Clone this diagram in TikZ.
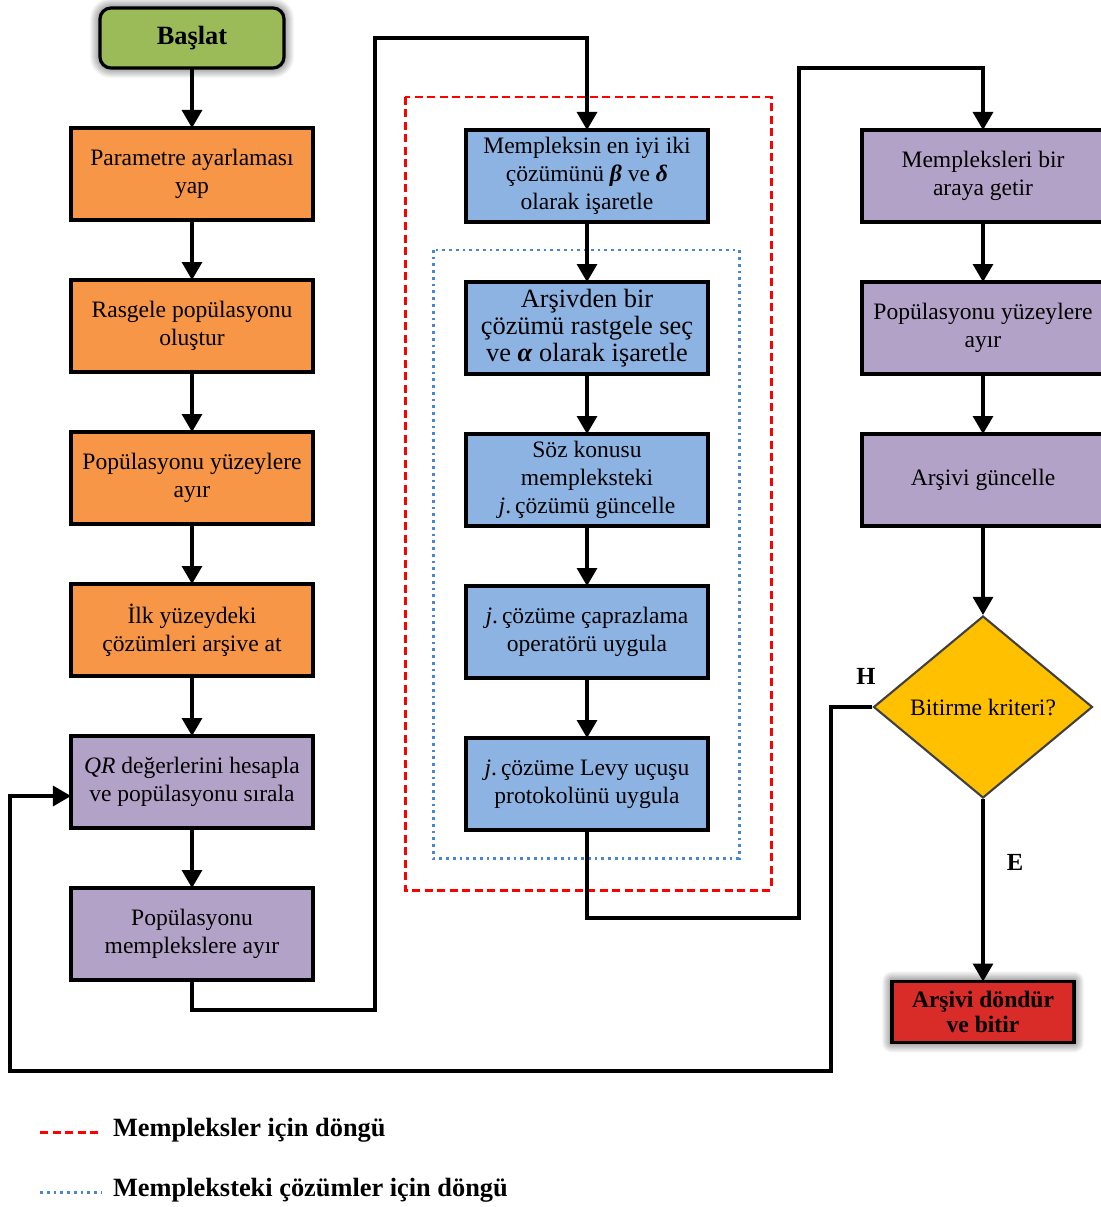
\documentclass[tikz,border=0pt]{standalone}
\usepackage{fontspec}
\setmainfont{Liberation Serif}
\usetikzlibrary{arrows.meta,positioning,shapes.geometric,calc,shadows.blur}

\definecolor{startgreen}{HTML}{9BBB59}
\definecolor{initorange}{HTML}{F79646}
\definecolor{rankpurple}{HTML}{B3A2C7}
\definecolor{memblue}{HTML}{8DB3E2}
\definecolor{decyellow}{HTML}{FFC000}
\definecolor{endred}{HTML}{D92B27}
\definecolor{looped}{HTML}{FF0000}
\definecolor{loopblue}{HTML}{4A86D0}

\begin{document}
\begin{tikzpicture}[
    x=0.2mm, y=-0.2mm,
    font=\fontsize{13.4}{16}\selectfont,
    stepbox/.style={draw, line width=1.8pt, outer sep=0pt, minimum width=48.4mm, minimum height=18.4mm, align=center, inner sep=2pt},
    init/.style={stepbox, fill=initorange},
    rank/.style={stepbox, fill=rankpurple},
    mem/.style={stepbox, fill=memblue},
    edge/.style={-{Triangle[length=3.6mm,width=4mm]}, line width=1.8pt},
    lbl/.style={font=\fontsize{14}{16}\selectfont\bfseries, inner sep=1pt},
    redloop/.style={looped, line width=1.7pt, dash pattern=on 1.6mm off 0.9mm},
    blueloop/.style={loopblue, line width=1.7pt, dash pattern=on 0.55mm off 0.8mm},
    halo/.style={blur shadow={shadow xshift=0pt, shadow yshift=0pt, shadow blur radius=6pt, shadow blur steps=12, shadow opacity=80}}
]
\useasboundingbox (0,0) rectangle (1100,1207);

% loop frames
\draw[redloop] (405,97) rectangle (771,890);
\draw[blueloop] (433,250) rectangle (739,858);

% left column
\node[stepbox, fill=startgreen, rounded corners=2.2mm, minimum width=36.8mm, minimum height=12mm, halo,
      font=\fontsize{15}{17}\selectfont\bfseries] (start) at (192,38) {Başlat};
\node[init] (par) at (192,174) {Parametre ayarlaması\\yap};
\node[init, below=12mm of par] (pop) {Rasgele popülasyonu\\oluştur};
\node[init, below=12mm of pop] (surf) {Popülasyonu yüzeylere\\ayır};
\node[init, below=12mm of surf] (first) {İlk yüzeydeki\\çözümleri arşive at};
\node[rank, below=12mm of first] (qr) {\textit{QR} değerlerini hesapla\\ve popülasyonu sırala};
\node[rank, below=12mm of qr] (split) {Popülasyonu\\memplekslere ayır};

% middle column
\node[mem] (best) at (587,176) {Mempleksin en iyi iki\\çözümünü \textbf{\textit{β}} ve \textbf{\textit{δ}}\\olarak işaretle};
\node[mem, below=12mm of best, font=\fontsize{15}{15.5}\selectfont] (arch) {Arşivden bir\\çözümü rastgele seç\\ve \textbf{\textit{α}} olarak işaretle};
\node[mem, below=12mm of arch] (upd) {Söz konusu\\mempleksteki\\\textit{j}.\,çözümü güncelle};
\node[mem, below=12mm of upd] (cross) {\textit{j}.\,çözüme çaprazlama\\operatörü uygula};
\node[mem, below=12mm of cross] (levy) {\textit{j}.\,çözüme Levy uçuşu\\protokolünü uygula};

% right column
\node[rank] (merge) at (983,176) {Mempleksleri bir\\araya getir};
\node[rank, below=12mm of merge] (surf2) {Popülasyonu yüzeylere\\ayır};
\node[rank, below=12mm of surf2] (archupd) {Arşivi güncelle};
\node[diamond, draw=black!75, line width=1.2pt, fill=decyellow, inner sep=0pt,
      minimum width=43.8mm, minimum height=36.4mm] (dec) at (983,707) {Bitirme kriteri?};
\node[stepbox, fill=endred, minimum width=36.4mm, minimum height=12.2mm, halo,
      font=\fontsize{13.4}{14.5}\selectfont\bfseries] (ret) at (983,1012) {Arşivi döndür\\ve bitir};

\node[lbl] (hlab) at (866,676) {H};
\node[lbl] (elab) at (1015,862) {E};

% flow
\draw[edge] (start) -- (par);
\draw[edge] (par) -- (pop);
\draw[edge] (pop) -- (surf);
\draw[edge] (surf) -- (first);
\draw[edge] (first) -- (qr);
\draw[edge] (qr) -- (split);
\draw[edge] (split.south) |- (375,1010) |- (587,38) -- (best.north);
\draw[edge] (best) -- (arch);
\draw[edge] (arch) -- (upd);
\draw[edge] (upd) -- (cross);
\draw[edge] (cross) -- (levy);
\draw[edge] (levy.south) |- (799,918) |- (983,68) -- (merge.north);
\draw[edge] (merge) -- (surf2);
\draw[edge] (surf2) -- (archupd);
\draw[edge] (archupd) -- (dec);
\draw[edge] (dec) -- (ret);
\draw[edge] (dec.west) -| (831,1071) -| ($(qr.west)+(-61,14)$) -- ($(qr.west)+(0,14)$);

% legend
\node[lbl, anchor=west, font=\fontsize{15}{17}\selectfont\bfseries] (leg1) at (111,1130) {Mempleksler için döngü};
\node[lbl, anchor=west, font=\fontsize{15}{17}\selectfont\bfseries] (leg2) at (111,1190) {Mempleksteki çözümler için döngü};
\draw[redloop] ($(leg1.west)+(-71,2)$) -- ($(leg1.west)+(-9,2)$);
\draw[blueloop] ($(leg2.west)+(-71,2)$) -- ($(leg2.west)+(-9,2)$);
\end{tikzpicture}
\end{document}
